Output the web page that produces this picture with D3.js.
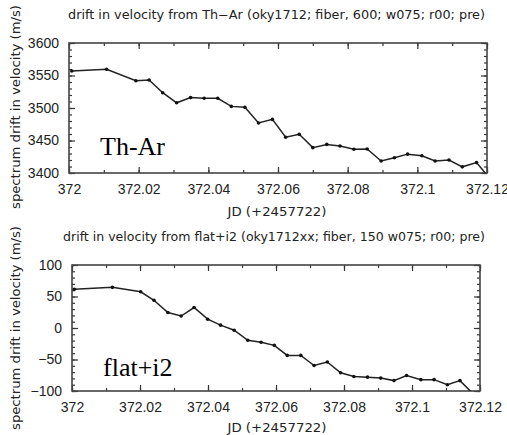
<!DOCTYPE html>
<meta charset="utf-8">
<style>
body { margin: 0; background: #fff; }
text { font-family: "DejaVu Sans", sans-serif; fill: #222; }
</style>
<body>
<script src="https://cdn.jsdelivr.net/npm/d3@7"></script>
<script>
// JD offsets from 372 (+2457722) and drift values (m/s)
var jdTh  = [0.0008, 0.0108, 0.0192, 0.0230, 0.0269, 0.0309, 0.0349, 0.0388, 0.0427, 0.0466,
             0.0505, 0.0544, 0.0584, 0.0622, 0.0661, 0.0700, 0.0740, 0.0778, 0.0818, 0.0856,
             0.0896, 0.0934, 0.0972, 0.1013, 0.1051, 0.1091, 0.1129, 0.1170, 0.1209];
var velTh = [3557, 3559.5, 3542, 3543, 3523.5, 3508, 3516, 3515, 3515, 3502.5,
             3501, 3477, 3482.5, 3455, 3459.5, 3439, 3444, 3441.5, 3436.5, 3437,
             3418.5, 3423.5, 3429, 3426.5, 3418.5, 3420, 3409.5, 3416, 3391];

var jdFl  = [0.0007, 0.0119, 0.0202, 0.0241, 0.0282, 0.0321, 0.0359, 0.0399, 0.0437, 0.0477,
             0.0517, 0.0556, 0.0595, 0.0633, 0.0673, 0.0712, 0.0751, 0.0790, 0.0829, 0.0869,
             0.0908, 0.0947, 0.0984, 0.1026, 0.1065, 0.1104, 0.1141, 0.1179];
var velFl = [61.5, 64.5, 57.5, 44, 24.5, 19, 32.5, 14, 4.5, -3.5,
             -19.5, -22.5, -27.5, -43.5, -43.5, -59.5, -54, -71, -77, -78,
             -79.5, -83.5, -75.5, -82, -82, -90, -83.5, -104];

var xTicks = [0, 0.02, 0.04, 0.06, 0.08, 0.1, 0.12];
var xTickLabels = ["372", "372.02", "372.04", "372.06", "372.08", "372.1", "372.12"];
var xMinor = d3.range(0, 0.1201, 0.01);

var titles = ["drift in velocity from Th\u2212Ar (oky1712; fiber, 600; w075; r00; pre)",
              "drift in velocity from flat+i2 (oky1712xx; fiber, 150 w075; r00; pre)"];
var tags = ["Th-Ar", "flat+i2"];
var yLabel = "spectrum drift in velocity (m/s)";
var xLabel = "JD (+2457722)";

var W = 507, H = 435;
var svg = d3.select("body").append("svg").attr("width", W).attr("height", H);

var panels = [
  { jd: jdTh, v: velTh, title: titles[0], tag: tags[0],
    left: 69, right: 487, top: 43, bottom: 173, yDom: [3400, 3600],
    titleY: 19, titleX: 276.5, titleLen: 417, yLabY: 107, xLabY: 216, tagY: 155 },
  { jd: jdFl, v: velFl, title: titles[1], tag: tags[1],
    left: 72, right: 480, top: 265, bottom: 391, yDom: [-100, 100],
    titleY: 241, titleX: 274, titleLen: 422, yLabY: 328, xLabY: 432, tagY: 376 }
];

panels.forEach(function(p, i) {
  var x = d3.scaleLinear().domain([0, 0.12]).range([p.left, p.right]);
  var y = d3.scaleLinear().domain(p.yDom).range([p.bottom, p.top]);
  var g = svg.append("g");
  var yMajT = d3.range(p.yDom[0], p.yDom[1] + 0.1, 50);
  var yMinT = d3.range(p.yDom[0], p.yDom[1] + 0.1, 10);

  // title
  g.append("text").attr("x", p.titleX).attr("y", p.titleY)
    .attr("text-anchor", "middle").attr("font-size", 11.5)
    .attr("textLength", p.titleLen).attr("lengthAdjust", "spacingAndGlyphs").text(p.title);

  // y axis label
  g.append("text")
    .attr("transform", "translate(20," + p.yLabY + ") rotate(-90)")
    .attr("text-anchor", "middle").attr("font-size", 11.5)
    .attr("textLength", 204).attr("lengthAdjust", "spacingAndGlyphs").text(yLabel);

  // x axis label
  g.append("text").attr("x", 277).attr("y", p.xLabY)
    .attr("text-anchor", "middle").attr("font-size", 11.5)
    .attr("textLength", 99).attr("lengthAdjust", "spacingAndGlyphs").text(xLabel);

  var axStyle = function(sel) {
    sel.select(".domain").remove();
    sel.selectAll("line").attr("stroke", "#333").attr("stroke-width", 1.2);
    sel.selectAll("text").attr("font-size", 14).attr("fill", "#222")
      .style("font-family", "Liberation Sans, Arial, sans-serif");
  };

  // bottom axis: minor + major ticks pointing inward
  g.append("g").attr("transform", "translate(0," + p.bottom + ")")
    .call(d3.axisBottom(x).tickValues(xMinor).tickSize(-3).tickFormat(""))
    .call(axStyle);
  g.append("g").attr("transform", "translate(0," + p.bottom + ")")
    .call(d3.axisBottom(x).tickValues(xTicks).tickSizeInner(-6).tickPadding(11)
      .tickFormat(function(d, k) { return xTickLabels[k]; }))
    .call(axStyle);
  // top axis
  g.append("g").attr("transform", "translate(0," + p.top + ")")
    .call(d3.axisTop(x).tickValues(xMinor).tickSize(-3).tickFormat(""))
    .call(axStyle);
  g.append("g").attr("transform", "translate(0," + p.top + ")")
    .call(d3.axisTop(x).tickValues(xTicks).tickSize(-6).tickFormat(""))
    .call(axStyle);
  // left axis
  g.append("g").attr("transform", "translate(" + p.left + ",0)")
    .call(d3.axisLeft(y).tickValues(yMinT).tickSize(-3).tickFormat(""))
    .call(axStyle);
  g.append("g").attr("transform", "translate(" + p.left + ",0)")
    .call(d3.axisLeft(y).tickValues(yMajT).tickSizeInner(-6).tickPadding(10)
      .tickFormat(function(d) { return d < 0 ? "\u2212" + Math.abs(d) : d; }))
    .call(axStyle);
  // right axis
  g.append("g").attr("transform", "translate(" + p.right + ",0)")
    .call(d3.axisRight(y).tickValues(yMinT).tickSize(-3).tickFormat(""))
    .call(axStyle);
  g.append("g").attr("transform", "translate(" + p.right + ",0)")
    .call(d3.axisRight(y).tickValues(yMajT).tickSize(-6).tickFormat(""))
    .call(axStyle);

  // frame
  g.append("rect").attr("x", p.left).attr("y", p.top)
    .attr("width", p.right - p.left).attr("height", p.bottom - p.top)
    .attr("fill", "none").attr("stroke", "#444").attr("stroke-width", 1.6);

  // clip
  var cid = "clip" + i;
  svg.append("clipPath").attr("id", cid).append("rect")
    .attr("x", p.left).attr("y", p.top)
    .attr("width", p.right - p.left).attr("height", p.bottom - p.top);

  var pts = p.jd.map(function(d, k) { return [d, p.v[k]]; });
  var line = d3.line().x(function(d) { return x(d[0]); }).y(function(d) { return y(d[1]); });
  var dg = g.append("g").attr("clip-path", "url(#" + cid + ")");
  dg.append("path").datum(pts).attr("d", line)
    .attr("fill", "none").attr("stroke", "#222").attr("stroke-width", 1.5);
  dg.selectAll("circle").data(pts).enter().append("circle")
    .attr("cx", function(d) { return x(d[0]); })
    .attr("cy", function(d) { return y(d[1]); })
    .attr("r", 1.8).attr("fill", "#111");

  // label in serif
  g.append("text").attr("x", p.left + 31).attr("y", p.tagY)
    .attr("font-size", 26).style("font-family", "Liberation Serif, Times New Roman, serif")
    .style("fill", "#000").text(p.tag);
});
</script>
</body>
